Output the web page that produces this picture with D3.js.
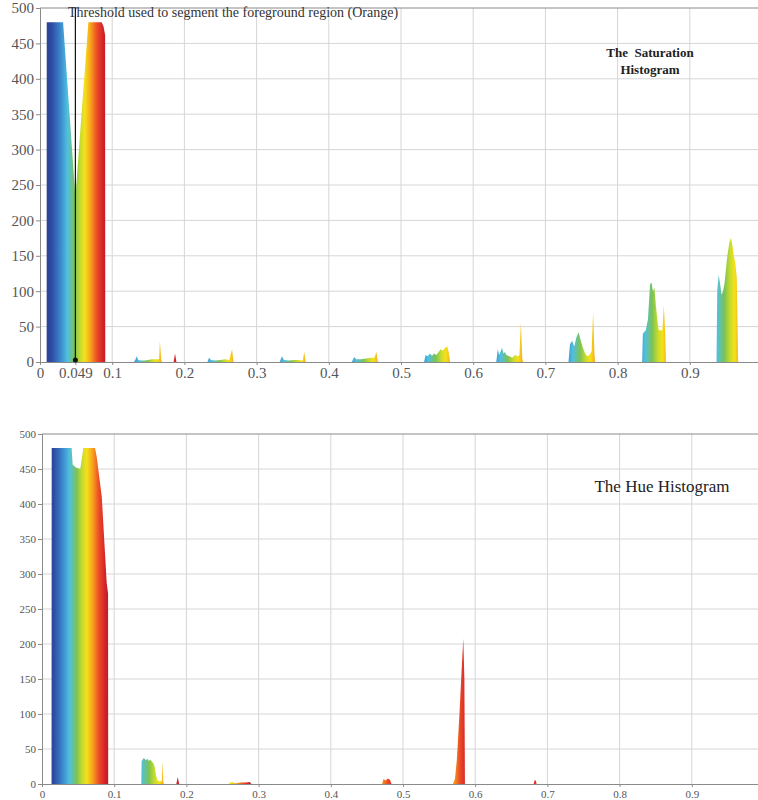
<!DOCTYPE html>
<html><head><meta charset="utf-8">
<script src="https://cdn.jsdelivr.net/npm/d3@7"></script>
<style>body{margin:0;background:#fff}svg{display:block}text{font-family:'Liberation Serif','Times New Roman',serif}</style>
</head><body><svg id="c" width="758" height="800"></svg>
<script>
// ---------- data ----------
const yTicks = [0,50,100,150,200,250,300,350,400,450,500];
const satXTicks = [0,0.049,0.1,0.2,0.3,0.4,0.5,0.6,0.7,0.8,0.9];
const satXTickLabels = ["0","0.049","0.1","0.2","0.3","0.4","0.5","0.6","0.7","0.8","0.9"];
const hueXTicks = [0,0.1,0.2,0.3,0.4,0.5,0.6,0.7,0.8,0.9];
const hueXTickLabels = ["0","0.1","0.2","0.3","0.4","0.5","0.6","0.7","0.8","0.9"];
const gridX = [0.1,0.2,0.3,0.4,0.5,0.6,0.7,0.8,0.9,1.0];
const thresholdValue = 0.049;
const thresholdText = "Threshold used to segment the foreground region (Orange)";
const satTitle = ["The  Saturation","Histogram"];
const hueTitle = "The Hue Histogram";

// Saturation histogram (bin position, count)
const satX = [0.0092,0.0093,0.032,0.049,0.067,0.0855,0.088,0.0902,0.0904,
  0.130,0.132,0.134,0.136,0.140,0.145,0.150,0.155,0.160,0.165,0.166,0.168,0.169,
  0.185,0.187,0.189,
  0.232,0.234,0.237,0.243,0.250,0.256,0.262,0.266,0.268,
  0.332,0.335,0.338,0.345,0.352,0.358,0.364,0.366,0.368,
  0.432,0.435,0.438,0.445,0.452,0.458,0.463,0.466,0.468,
  0.532,0.534,0.537,0.540,0.543,0.546,0.549,0.552,0.555,0.558,0.561,0.564,0.566,0.568,
  0.632,0.634,0.636,0.638,0.640,0.642,0.644,0.646,0.650,0.654,0.658,0.662,0.664,0.666,0.668,0.669,
  0.732,0.734,0.737,0.740,0.743,0.746,0.749,0.752,0.755,0.758,0.761,0.764,0.766,0.768,0.769,
  0.834,0.835,0.839,0.842,0.845,0.847,0.849,0.851,0.853,0.855,0.857,0.860,0.862,0.864,0.866,0.867,
  0.937,0.938,0.940,0.942,0.944,0.946,0.948,0.950,0.952,0.955,0.957,0.959,0.961,0.963,0.965,0.966,0.967];
const satY = [0,480,480,233,480,480,474,462,0,
  0,3,8,3,2,2,3,4,4,4,30,3,0,
  0,12,0,
  0,6,3,2,3,4,3,18,0,
  0,8,3,2,3,3,2,14,0,
  0,7,4,4,5,6,6,14,0,
  0,10,8,12,9,12,10,14,18,16,20,22,14,0,
  0,18,10,15,20,12,14,10,8,6,10,8,10,55,5,0,
  0,25,30,22,35,42,30,20,12,8,10,15,70,10,0,
  0,40,45,60,110,112,100,105,80,60,45,45,45,80,40,0,
  0,100,123,110,95,100,110,130,150,170,175,165,150,140,120,60,0];

// Hue histogram (bin position, count)
const hueX = [0.0132,0.0134,0.041,0.0425,0.047,0.053,0.0573,0.0734,0.0757,0.0828,0.0896,0.0915,0.0917,
  0.1375,0.138,0.141,0.144,0.146,0.148,0.150,0.152,0.154,0.156,0.158,0.160,0.163,0.166,0.167,0.168,0.169,
  0.186,0.188,0.190,
  0.258,0.262,0.268,0.275,0.282,0.288,0.290,
  0.471,0.473,0.476,0.479,0.482,0.484,
  0.569,0.572,0.5745,0.578,0.5813,0.5835,0.585,0.5858,
  0.681,0.682,0.684,0.685];
const hueY = [0,480,480,456,452,450,480,480,468,410,287,272,0,
  0,33,37,34,36,33,35,32,30,25,12,5,4,4,33,3,0,
  0,10,0,
  0,3,1,2,2,3,0,
  0,7,5,8,6,0,
  0,8,34,96,165,208,150,0,
  0,5,5,0];

// ---------- drawing ----------
const svg = d3.select("#c");
const W = 758;
const font = "'Liberation Serif','Times New Roman',serif";
const jetStops = [
  [0.00,"#2b3a8e"],[0.16,"#2d4aa2"],[0.28,"#3a86cc"],[0.38,"#4fc0e0"],
  [0.48,"#7cc353"],[0.56,"#c9dc2c"],[0.62,"#f4e11b"],[0.70,"#f8a21c"],
  [0.79,"#ec4a27"],[0.88,"#d0202a"],[1.00,"#8e1a1e"]];

function panel(cfg) {
  const x = d3.scaleLinear().domain([0,1]).range(cfg.xr);
  const y = d3.scaleLinear().domain([0,500]).range(cfg.yr);
  const g = svg.append("g");
  const gid = "jet" + cfg.id;
  const grad = svg.append("defs").append("linearGradient")
    .attr("id", gid).attr("gradientUnits","userSpaceOnUse")
    .attr("x1", x(0)).attr("x2", x(0.1)).attr("y1",0).attr("y2",0)
    .attr("spreadMethod","repeat");
  grad.selectAll("stop").data(jetStops).join("stop")
    .attr("offset", d => d[0]).attr("stop-color", d => d[1]);

  // grid
  g.selectAll(".gx").data(gridX).join("line")
    .attr("x1", d => x(d)).attr("x2", d => x(d))
    .attr("y1", y(500)).attr("y2", y(0))
    .attr("stroke","#d6d6d6").attr("stroke-width",1);
  g.selectAll(".gy").data(yTicks.filter(d => d>0 && d<500)).join("line")
    .attr("x1", x(0)).attr("x2", W)
    .attr("y1", d => y(d)).attr("y2", d => y(d))
    .attr("stroke","#d6d6d6").attr("stroke-width",1);

  // histogram area
  const pts = cfg.xs.map((v,i) => [v, cfg.ys[i]]);
  const area = d3.area().x(d => x(d[0])).y0(y(0)).y1(d => y(d[1]));
  g.append("path").datum(pts).attr("d", area).attr("fill", `url(#${gid})`);

  // frame
  g.append("line").attr("x1", x(0)).attr("x2", W).attr("y1", y(500)).attr("y2", y(500))
    .attr("stroke","#8a8a8a").attr("stroke-width",1.2);

  // axes
  const ax = g.append("g").attr("transform", `translate(${x(0)},0)`)
    .call(d3.axisLeft(y).tickValues(yTicks).tickSize(4).tickPadding(2));
  const bx = g.append("g").attr("transform", `translate(0,${y(0)})`)
    .call(d3.axisBottom(x).tickValues(cfg.xt).tickFormat((d,i) => cfg.xl[i]).tickSize(3).tickPadding(cfg.xpad));
  [ax,bx].forEach(a => {
    a.attr("font-family", font);
    a.select(".domain").attr("stroke","#8a8a8a");
    a.selectAll(".tick line").attr("stroke","#8a8a8a");
    a.selectAll("text").attr("fill","#555").attr("font-family", font);
  });
  ax.attr("font-size", cfg.yfs);
  bx.attr("font-size", cfg.xfs);
  return {x, y, g};
}

const satPanel = panel({id:"s", xr:[40,762], yr:[362,8], xs:satX, ys:satY,
  xt:satXTicks, xl:satXTickLabels, yfs:15, xfs:15, xpad:2});
const huePanel = panel({id:"h", xr:[42,764], yr:[784,434], xs:hueX, ys:hueY,
  xt:hueXTicks, xl:hueXTickLabels, yfs:11, xfs:11, xpad:3});

// threshold
satPanel.g.append("line")
  .attr("x1", satPanel.x(thresholdValue)).attr("x2", satPanel.x(thresholdValue))
  .attr("y1", satPanel.y(500)).attr("y2", satPanel.y(0))
  .attr("stroke","#111").attr("stroke-width",1.2);
satPanel.g.append("circle").attr("cx", satPanel.x(thresholdValue)).attr("cy", satPanel.y(0) - 2)
  .attr("r", 2.5).attr("fill","#111");
satPanel.g.append("text").attr("x", 68).attr("y", 17).text(thresholdText)
  .attr("font-family", font).attr("font-size", 14).attr("fill","#333");

// titles
satPanel.g.selectAll(".tt").data(satTitle).join("text")
  .attr("x", 650).attr("y", (d,i) => 57 + i*17).attr("text-anchor","middle")
  .attr("font-family", font).attr("font-size", 13).attr("font-weight","bold")
  .style("white-space","pre").attr("fill","#222").text(d => d);
huePanel.g.append("text").attr("x", 662).attr("y", 492).attr("text-anchor","middle")
  .attr("font-family", font).attr("font-size", 17).attr("fill","#222").text(hueTitle);
</script></body></html>
